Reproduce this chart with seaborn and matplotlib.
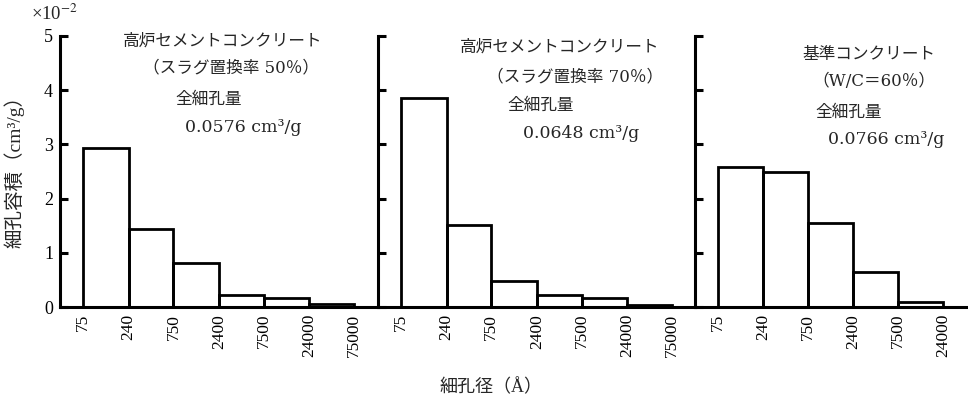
import numpy as np
import pandas as pd
import seaborn as sns
import matplotlib
matplotlib.use("Agg")
import matplotlib.pyplot as plt

# pore size class edges (Å) and pore volume per class (x10^-2 cm3/g)
edges_long = [75, 240, 750, 2400, 7500, 24000, 75000]
edges_short = [75, 240, 750, 2400, 7500, 24000]
vol_slag50 = [2.93, 1.44, 0.81, 0.22, 0.16, 0.06]
vol_slag70 = [3.86, 1.52, 0.48, 0.22, 0.16, 0.03]
vol_base = [2.58, 2.49, 1.55, 0.64, 0.10]

names = [
    ["高炉セメントコンクリート", "（スラグ置換率 50％）", "全細孔量"],
    ["高炉セメントコンクリート", "（スラグ置換率 70％）", "全細孔量"],
    ["基準コンクリート", "（W/C＝60％）", "全細孔量"],
]
totals = ["0.0576 cm³/g", "0.0648 cm³/g", "0.0766 cm³/g"]

# text anchor points in pixels (left edge, centre line) for each panel
text_pos = [
    [(123, 42), (143, 68), (175, 100), (185, 127)],
    [(460, 48), (487, 77), (507, 106), (523, 134)],
    [(802, 55), (812, 82), (815, 113), (828, 140)],
]

sns.set_theme(style="white")
plt.rcParams["font.family"] = ["Liberation Serif", "Noto Sans CJK JP", "DejaVu Sans"]
plt.rcParams["mathtext.fontset"] = "stix"
serif_jp = ["DejaVu Serif", "Noto Sans CJK JP"]

W, H = 968, 400
fig = plt.figure(figsize=(W / 100, H / 100), dpi=100)

# panel placement in pixels: left, right
panels = [(60, 378, edges_long, vol_slag50, 5.14),
          (378, 695, edges_long, vol_slag70, 5.13),
          (695, 968, edges_short, vol_base, 4.66)]
y0_px, y5_px = 307, 36
lw_axis = 2.2

for i, (left, right, edges, vols, xmax) in enumerate(panels):
    ax = fig.add_axes([left / W, 1 - y0_px / H, (right - left) / W, (y0_px - y5_px) / H])
    log_edges = np.log10(edges)
    df = pd.DataFrame({"logsize": (log_edges[:-1] + log_edges[1:]) / 2, "vol": vols})
    sns.histplot(data=df, x="logsize", weights="vol", bins=log_edges.tolist(),
                 fill=False, color="black", linewidth=2.0, ax=ax)
    ax.set_xlim(1.62, xmax)
    ax.set_ylim(0, 5)
    ax.set_xticks(log_edges)
    ax.set_xticklabels([str(e) for e in edges], rotation=90, va="top", fontsize=12.5)
    ax.set_yticks(range(6))
    ax.set_xlabel("")
    ax.set_ylabel("")
    ax.patch.set_alpha(0)
    for s in ["top", "right"]:
        ax.spines[s].set_visible(False)
    for s in ["left", "bottom"]:
        ax.spines[s].set_color("black")
        ax.spines[s].set_linewidth(lw_axis)
    ax.tick_params(axis="x", bottom=False, length=0, pad=5, colors="black")
    ax.tick_params(axis="y", left=True, direction="in", length=6, width=lw_axis, pad=5,
                   colors="black", labelsize=13)
    if i > 0:
        ax.tick_params(axis="y", labelleft=False)

    pos = text_pos[i]
    for k, (txt, (px, py)) in enumerate(zip(names[i], pos[:3])):
        fam = serif_jp if k == 1 else None
        fig.text(px / W, 1 - py / H, txt, ha="left", va="center", fontsize=12,
                 family=fam)
    px, py = pos[3]
    fig.text(px / W, 1 - py / H, totals[i], ha="left", va="center", fontsize=12.5,
             family=serif_jp)

fig.text(54 / W, 1 - 14 / H, r"×10$^{-2}$", ha="center", va="center", fontsize=13.5)
fig.text(14 / W, 1 - 167 / H, "細孔容積（cm³/g）", rotation=90, ha="center",
         va="center", fontsize=14)
fig.text(491 / W, 1 - 387 / H, "細孔径（Å）", ha="center", va="center", fontsize=13)

fig.savefig("out.png", dpi=100)
